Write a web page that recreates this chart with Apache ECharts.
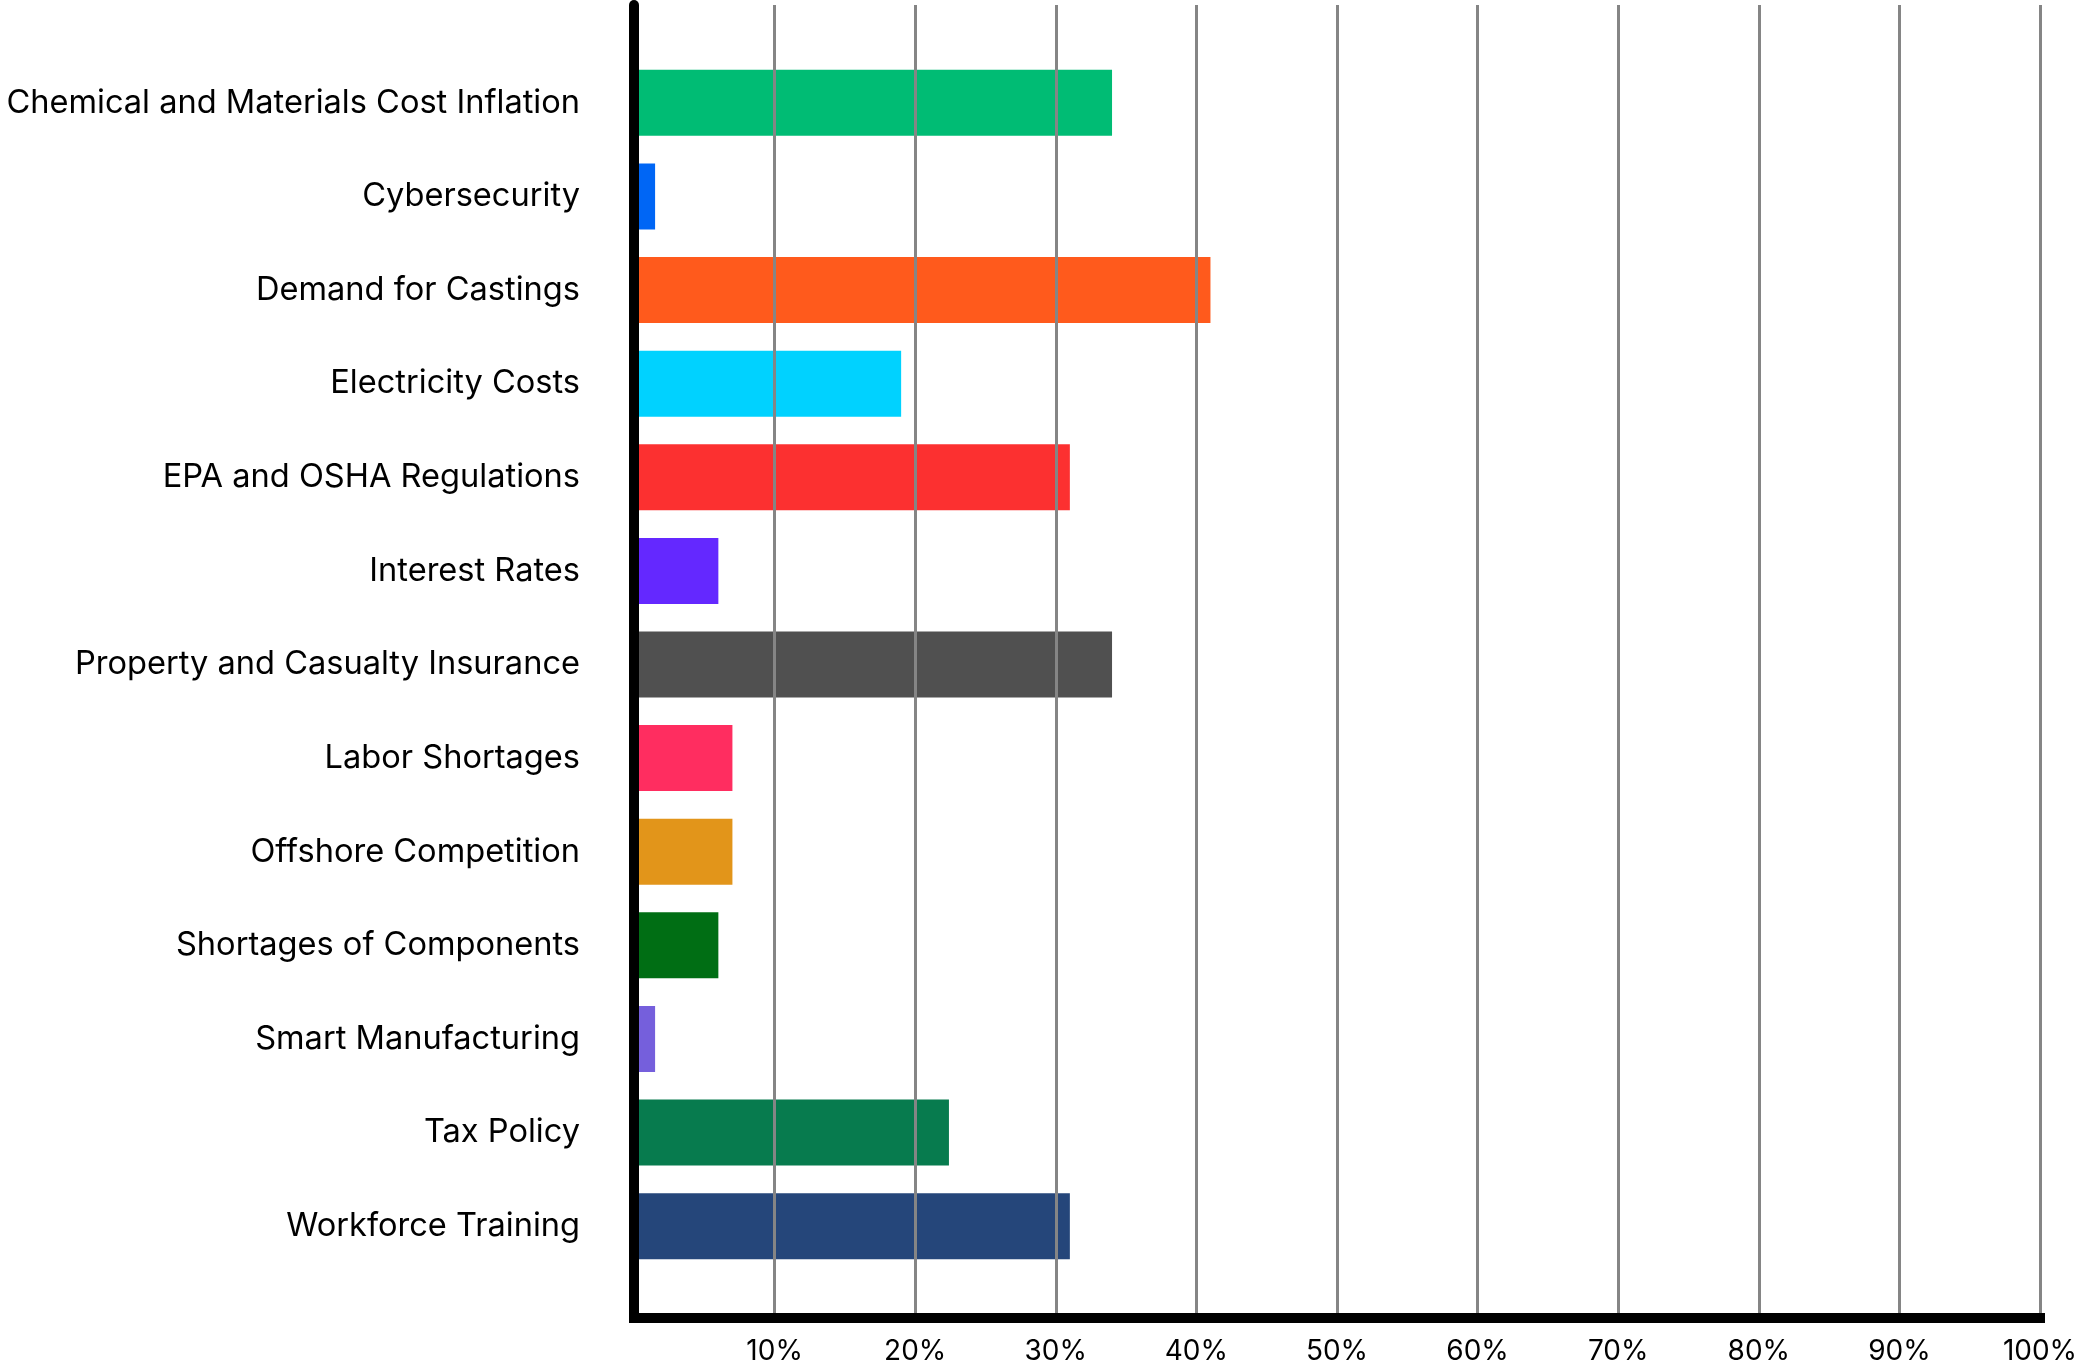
<!DOCTYPE html>
<html>
<head>
<meta charset="utf-8">
<script src="https://cdn.jsdelivr.net/npm/echarts@6/dist/echarts.min.js"></script>
<style>
html,body{margin:0;padding:0;background:#fff;}
#chart{width:2087px;height:1366px;}
</style>
</head>
<body>
<div id="chart"></div>
<script>
const categories = [
  'Chemical and Materials Cost Inflation',
  'Cybersecurity',
  'Demand for Castings',
  'Electricity Costs',
  'EPA and OSHA Regulations',
  'Interest Rates',
  'Property and Casualty Insurance',
  'Labor Shortages',
  'Offshore Competition',
  'Shortages of Components',
  'Smart Manufacturing',
  'Tax Policy',
  'Workforce Training'
];
const values = [34, 1.5, 41, 19, 31, 6, 34, 7, 7, 6, 1.5, 22.4, 31];
const barColors = ['#00BC74', '#0066F5', '#FF5A1C', '#00D2FF', '#FC3030', '#6428FF', '#505050',
                   '#FF2D60', '#E2951A', '#006E14', '#755FDC', '#077B4E', '#25467A'];
const tickValues = [0, 10, 20, 30, 40, 50, 60, 70, 80, 90, 100];
const tickLabels = ['', '10%', '20%', '30%', '40%', '50%', '60%', '70%', '80%', '90%', '100%'];

const FONT = 'Inter';
const chart = echarts.init(document.getElementById('chart'));
chart.setOption({
  backgroundColor: '#fff',
  animation: false,
  textStyle: { fontFamily: FONT },
  grid: [
    { left: 634, right: 47, top: 5, bottom: 48 },
    { left: 634, right: 47, top: 56, bottom: 93 }
  ],
  xAxis: [
    {
      gridIndex: 0, type: 'value', min: tickValues[0], max: tickValues[tickValues.length - 1], interval: 10,
      axisLine: { show: true, lineStyle: { color: '#000', width: 10, cap: 'square' } },
      axisTick: { show: false },
      splitLine: { show: true, lineStyle: { color: '#858585', width: 3 } },
      axisLabel: {
        color: '#000', fontSize: 28, margin: 20, fontFamily: FONT,
        formatter: function (v) { const i = tickValues.indexOf(v); return i >= 0 ? tickLabels[i] : ''; }
      },
      z: 5
    },
    {
      gridIndex: 1, type: 'value', min: 0, max: 100, show: false
    }
  ],
  yAxis: [
    {
      gridIndex: 0, type: 'value', min: 0, max: 1,
      axisLine: { show: true, onZero: false, lineStyle: { color: '#000', width: 10 } },
      axisTick: { show: false }, axisLabel: { show: false }, splitLine: { show: false },
      z: 5
    },
    {
      gridIndex: 1, type: 'category', data: categories, inverse: true,
      axisLine: { show: false }, axisTick: { show: false },
      axisLabel: { color: '#000', fontSize: 32.6, margin: 54, fontFamily: FONT }
    }
  ],
  series: [{
    type: 'bar', xAxisIndex: 1, yAxisIndex: 1,
    barWidth: 66,
    data: values.map((v, i) => ({ value: v, itemStyle: { color: barColors[i] } }))
  }]
});
</script>
</body>
</html>
